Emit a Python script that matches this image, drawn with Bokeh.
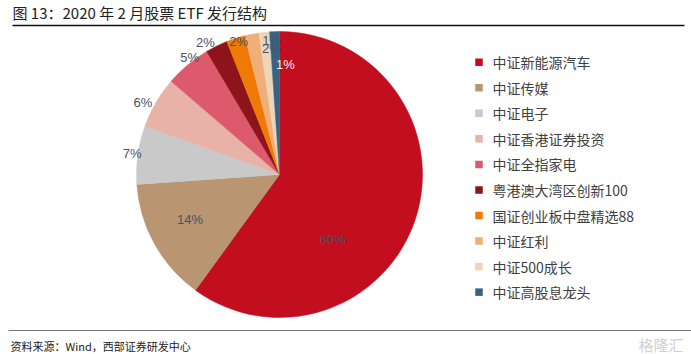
import math
from bokeh.plotting import figure
from bokeh.models import Range1d
from bokeh.core.properties import value
from bokeh.embed import file_html
from bokeh.resources import INLINE

# ---- data ----
categories = ["中证新能源汽车", "中证传媒", "中证电子", "中证香港证券投资", "中证全指家电",
              "粤港澳大湾区创新100", "国证创业板中盘精选88", "中证红利", "中证500成长", "中证高股息龙头"]
shares = [60.0, 13.9, 6.6, 5.8, 5.2, 2.5, 2.1, 1.6, 1.2, 1.1]
colors = ["#c20e1f", "#b99571", "#c9c9c9", "#e9b2a8", "#dc5a6b",
          "#8c141a", "#f07a06", "#f0ae78", "#ecd5b8", "#386283"]
title_text = "图 13：2020 年 2 月股票 ETF 发行结构"
source_text = "资料来源：Wind，西部证券研发中心"

# ---- layout / style (not data) ----
W, H = 691, 354
cx, cy, R = 279, H - 174, 143
label_angle = [140.8, 243.4, 278.1, 297.9, 322.4, 330.7, 342.9, 356.3, 356.6, 3.1]
label_rad = [0.59, 0.70, 1.04, 1.08, 1.03, 1.06, 0.97, 0.88, 0.94, 0.77]
label_col = ["#44546a"] * 9 + ["#eeeeee"]

p = figure(width=W, height=H, output_backend="svg", toolbar_location=None,
           x_range=Range1d(0, W), y_range=Range1d(0, H), min_border=0)
p.axis.visible = False
p.grid.visible = False
p.outline_line_color = None
p.background_fill_color = "white"

total = sum(shares)
starts, ends = [], []
c = 0.0
for s in shares:
    starts.append(math.pi / 2 - 2 * math.pi * c / total)
    c += s
    ends.append(math.pi / 2 - 2 * math.pi * c / total)

p.wedge(x=[cx] * len(shares), y=[cy] * len(shares), radius=R,
        start_angle=starts, end_angle=ends, direction="clock",
        fill_color=colors, line_color=colors, line_width=0.5)

# labels
lx, ly, lt = [], [], []
for s, a, r in zip(shares, label_angle, label_rad):
    th = math.radians(a)
    lx.append(cx + R * r * math.sin(th))
    ly.append(cy + R * r * math.cos(th))
    lt.append(f"{round(s / total * 100):d}%")
p.text(x=lx, y=ly, text=lt, text_color=label_col, text_font=value("Liberation Sans"),
       text_font_size="13px", text_align="center", text_baseline="middle")

# legend (manual)
leg_x, leg_top, leg_step = 478.5, H - 61.7, 25.55
n = len(categories)
ys = [leg_top - i * leg_step for i in range(n)]
p.rect(x=[leg_x] * n, y=ys, width=7.5, height=7.5, fill_color=colors, line_color=None)
p.text(x=[492] * n, y=ys, text=categories, text_color="#404040",
       text_font=value("Noto Sans CJK SC"), text_font_size="14px",
       text_align="left", text_baseline="middle")

# title, rules, source
p.text(x=[12], y=[H - 12], text=[title_text], text_color="#222222",
       text_font=value("Noto Sans CJK SC"), text_font_size="15px",
       text_align="left", text_baseline="middle")
p.line(x=[12, 684], y=[H - 25, H - 25], line_color="#111111", line_width=1.5)
p.line(x=[8, 691], y=[H - 330, H - 330], line_color="#777777", line_width=1.2)
p.text(x=[10], y=[H - 345], text=[source_text], text_color="#222222",
       text_font=value("Noto Sans CJK SC"), text_font_size="11px",
       text_align="left", text_baseline="middle")
p.text(x=[683], y=[H - 344], text=["格隆汇"], text_color="#d0d0d0",
       text_font=value("Noto Sans CJK SC"), text_font_size="15px",
       text_align="right", text_baseline="middle")

open("out.html", "w").write(file_html(p, INLINE))
